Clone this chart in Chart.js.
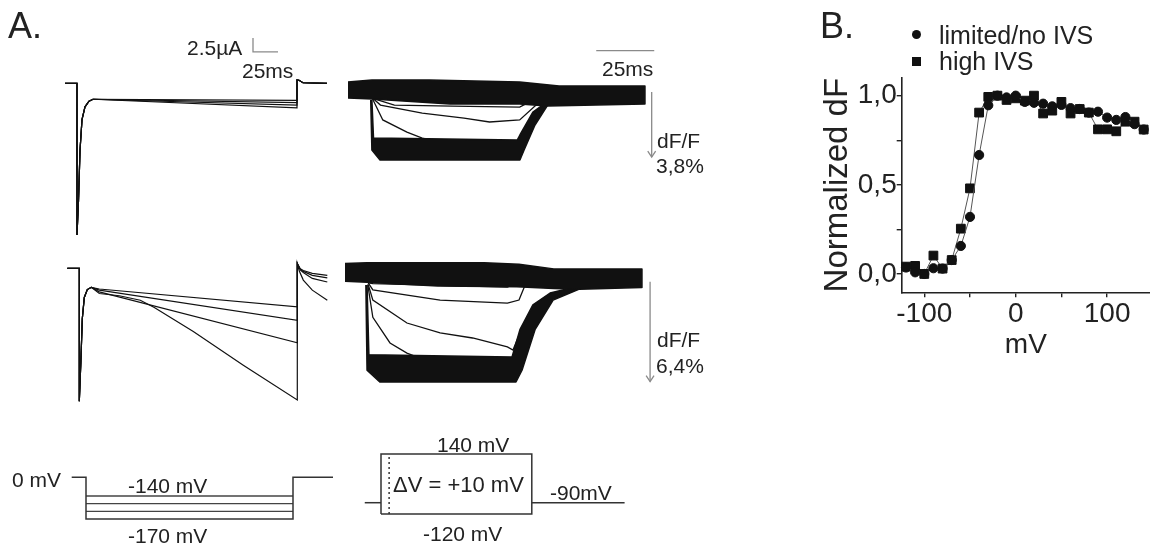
<!DOCTYPE html>
<html>
<head>
<meta charset="utf-8">
<script src="https://cdn.jsdelivr.net/npm/chart.js@4.4.1/dist/chart.umd.min.js"></script>
<style>
html, body { margin: 0; padding: 0; background: #fff; }
#page { position: relative; width: 1150px; height: 547px; overflow: hidden; font-family: "Liberation Sans", Arial, sans-serif; color: #222; }
canvas { position: absolute; }
.lbl { position: absolute; white-space: nowrap; line-height: 1; }
.mk { position: absolute; background: #111; width: 9px; height: 9px; }
</style>
</head>
<body>
<div id="page">
  <canvas id="traces" width="1150" height="547" style="left:0;top:0"></canvas>
  <canvas id="graphic" width="340" height="380" style="left:810px;top:0"></canvas>
</div>
<script>
var W = 1150, H = 547;
var FONT = '"Liberation Sans", Arial, sans-serif';

// ---- B. normalized dF vs test potential ----
var stepMv = [-120, -110, -100, -90, -80, -70, -60, -50, -40, -30, -20, -10, 0, 10, 20, 30, 40, 50, 60, 70, 80, 90, 100, 110, 120, 130, 140];
var dfLimited = [0.036, 0.009, 0.0, 0.032, 0.03, 0.078, 0.157, 0.32, 0.667, 0.946, 1.0, 0.99, 1.0, 0.965, 0.96, 0.955, 0.94, 0.948, 0.93, 0.925, 0.905, 0.91, 0.877, 0.864, 0.88, 0.84, 0.81];
var dfHigh = [0.041, 0.045, 0.0, 0.103, 0.03, 0.078, 0.254, 0.48, 0.905, 0.993, 1.0, 0.976, 0.985, 0.972, 1.0, 0.90, 0.916, 0.965, 0.90, 0.925, 0.905, 0.811, 0.811, 0.80, 0.854, 0.854, 0.81];
var xTickVals = [-100, -50, 0, 50, 100];
var xTickText = ['-100', '', '0', '', '100'];
var yTickVals = [0, 0.25, 0.5, 0.75, 1];
var yTickText = ['0,0', '', '0,5', '', '1,0'];

// ---- A. current records (ms, µA) ----
var iTopOnset = [[-12, 0], [0, 0], [0, -27.1], [1.5, -21], [3, -12], [5, -6.5], [8, -4.2], [12, -3.2], [16, -2.85]];
var iTopEnd = [-3.05, -3.45, -3.9, -4.4];
var iTopTail = [[220, 0.6], [222, 0.55], [226, 0.1], [250, 0]];
var iBotOnset = [[-12, 0], [0, 0], [0, -23.75], [1.5, -17], [3, -9], [5, -5.2], [8, -3.8], [12, -3.4]];
var iBotSweeps = [
  [[20, -3.7], [218, -6.9]],
  [[20, -3.9], [218, -9.3]],
  [[20, -4.2], [218, -13.3]],
  [[20, -4.5], [40, -4.9], [61, -5.7], [75, -7.0], [114, -11.3], [164, -17.3], [218, -23.5]]
];
var iBotTails = [
  [[218, 0.84], [221, -0.1], [224, -0.4], [233, -0.9], [248, -1.25]],
  [[218, 0.84], [221, -0.2], [224, -0.55], [233, -1.25], [248, -1.7]],
  [[218, 0.84], [221, -0.3], [224, -0.75], [233, -1.8], [248, -2.45]],
  [[218, 0.84], [220, -0.5], [224, -2.1], [233, -3.9], [248, -5.7]]
];

// ---- A. fluorescence records (ms, dF/F %) : envelopes of the dense bundles + single sweeps ----
var fTopBaseHi = [[0, 0.47], [10.3, 0.58], [35, 0.58], [74, 0.47], [91, 0.23], [128, 0.23]];
var fTopBaseLo = [[0, -0.47], [10.3, -0.53], [44, -0.82], [74, -0.82], [86, -0.94], [128, -0.82]];
var fTopMaxHi = [[10.3, -0.58], [11, -2.81], [73, -2.92], [74.1, -2.63], [79.7, -1.29], [85.8, -0.7]];
var fTopMaxLo = [[9.8, -0.58], [10.3, -3.51], [13.8, -4.09], [74.1, -4.09], [75.9, -3.51], [80.6, -2.05], [85.8, -0.94]];
var fTopSweeps = [
  [[10.5, -0.5], [15, -1.75], [25.4, -2.46], [32, -2.81], [40, -3.04]],
  [[10.8, -0.5], [14, -0.88], [32, -1.35], [50, -1.64], [61, -1.87], [74, -1.75], [80.6, -0.94], [86, -0.47]],
  [[11, -0.5], [20, -0.88], [45, -0.94], [74, -1.0], [80, -0.58]]
];
var fBotBaseHi = [[0, 0.55], [9.5, 0.6], [60, 0.6], [75, 0.5], [90, 0.2], [128, 0.2]];
var fBotBaseLo = [[0, -0.6], [9.5, -0.65], [40, -0.9], [74, -0.95], [90, -1.05], [101, -1.1], [128, -1.0]];
var fBotMaxHi = [[9.5, -0.83], [10.3, -5.3], [72, -5.45], [75.4, -3.7], [81, -2.1], [88.4, -1.35], [101, -0.9]];
var fBotMaxLo = [[9, -0.83], [9.5, -6.3], [15, -7.05], [73.7, -7.05], [76.3, -6.3], [81.9, -3.7], [89.7, -1.8], [101, -1.1]];
var fBotSweeps = [
  [[9.8, -0.8], [12, -2.9], [19.4, -4.55], [26.7, -5.2], [32, -5.5]],
  [[10, -0.8], [12, -1.8], [26.7, -3.27], [41, -3.9], [55, -4.23], [70, -4.8], [72.4, -5.0], [76, -3.7], [81, -2.4], [87, -1.67]],
  [[10, -0.7], [12, -1.15], [41, -1.8], [70, -2.0], [75, -1.8], [78, -0.7]],
  [[10, -0.7], [12, -0.75], [70, -0.96], [77, -0.5]]
];

// ---- A. voltage protocols (ms, mV) ----
var holdA = 0, stepsA = [-140, -150, -160, -170], stepA_ms = 207;
var holdB = -90, stepB_lo = -120, stepB_hi = 140, stepB_ms = 65;

// pixel frames: [x0, px per x unit, y0, px per y unit]
var frames = {
  curTop: [77, 1, 83.3, 5.6],
  curBot: [79.3, 1, 268.3, 5.6],
  fluTop: [348, 2.32, 90, 17.1],
  fluBot: [345, 2.32, 272, 15.6],
  protA: [86, 1, 477.3, 0.767],
  protB: [381, 2.32, 483.65, 0.377]
};
// schematic breaks of the protocol voltage axes (part above "at" is squeezed by f)
var breaks = {yprotA: {at: -140, f: 0.174}, yprotB: {at: -90, f: 0.5616}};

class BrokenMv extends Chart.LinearScale {
  getPixelForValue(v) {
    var b = breaks[this.id];
    var u = v < b.at ? b.at * b.f + (v - b.at) : v * b.f;
    return super.getPixelForValue(u);
  }
}
BrokenMv.id = 'brokenmv';
BrokenMv.defaults = Chart.LinearScale.defaults;
Chart.register(BrokenMv);

var scales = {};
Object.keys(frames).forEach(function (k) {
  var f = frames[k];
  scales['x' + k] = {type: 'linear', axis: 'x', display: false, min: -f[0] / f[1], max: (W - f[0]) / f[1]};
  scales['y' + k] = {type: breaks['y' + k] ? 'brokenmv' : 'linear', axis: 'y', display: false, min: (f[2] - H) / f[3], max: f[2] / f[3]};
});

function trace(frame, pts, opts) {
  return Object.assign({
    data: pts, xAxisID: 'x' + frame, yAxisID: 'y' + frame,
    borderColor: '#111', borderWidth: 1.2, pointRadius: 0, fill: false, tension: 0
  }, opts || {});
}
function band(frame, hi, lo) {
  return trace(frame, hi.concat(lo.slice().reverse()), {fill: 'shape', backgroundColor: '#111', borderWidth: 1.5, borderJoinStyle: 'round'});
}
var gray = {borderColor: '#8a8a8a', borderWidth: 1.3};
var volt = {borderColor: '#333', borderWidth: 1.5};

var ds = [];
iTopEnd.forEach(function (v) {
  ds.push(trace('curTop', iTopOnset.concat([[220, v]], iTopTail)));
});
iBotSweeps.forEach(function (s, i) {
  ds.push(trace('curBot', iBotOnset.concat(s, iBotTails[i])));
});
ds.push(band('fluTop', fTopBaseHi, fTopBaseLo));
ds.push(band('fluTop', fTopMaxHi, fTopMaxLo));
fTopSweeps.forEach(function (s) { ds.push(trace('fluTop', s, {borderWidth: 1.3})); });
ds.push(band('fluBot', fBotBaseHi, fBotBaseLo));
ds.push(band('fluBot', fBotMaxHi, fBotMaxLo));
fBotSweeps.forEach(function (s) { ds.push(trace('fluBot', s, {borderWidth: 1.3})); });

// scale bars and dF/F arrows, in the units of each record
ds.push(trace('curTop', [[176, 8.1], [176, 5.6], [201, 5.6]], gray));
ds.push(trace('fluTop', [[107, 2.3], [132, 2.3]], gray));
ds.push(trace('fluTop', [[130.9, -0.12], [130.9, -3.92]], gray));
ds.push(trace('fluTop', [[129.2, -3.57], [130.9, -3.92], [132.6, -3.57]], gray));
ds.push(trace('fluBot', [[131.5, -0.62], [131.5, -7.02]], gray));
ds.push(trace('fluBot', [[129.8, -6.64], [131.5, -7.02], [133.2, -6.64]], gray));

// protocols
var low = stepsA[stepsA.length - 1];
ds.push(trace('protA', [[-14.3, holdA], [0, holdA], [0, low], [stepA_ms, low], [stepA_ms, holdA], [stepA_ms + 40, holdA]], volt));
stepsA.slice(0, -1).forEach(function (v) {
  ds.push(trace('protA', [[0, v], [stepA_ms, v]], {borderColor: '#444', borderWidth: 1.3}));
});
ds.push(trace('protB', [[-7, holdB], [0, holdB]], volt));
ds.push(trace('protB', [[0, stepB_lo], [0, stepB_hi], [stepB_ms, stepB_hi], [stepB_ms, stepB_lo], [0, stepB_lo]], volt));
ds.push(trace('protB', [[stepB_ms, holdB], [stepB_ms + 105 - 65, holdB]], volt));
ds.push(trace('protB', [[3.5, stepB_lo], [3.5, stepB_hi]], Object.assign({borderDash: [2, 3]}, volt)));

new Chart(document.getElementById('traces'), {
  type: 'line',
  data: {datasets: ds},
  options: {
    responsive: false, animation: false, events: [],
    layout: {padding: 0, autoPadding: false},
    plugins: {legend: {display: false}, tooltip: {enabled: false}},
    scales: scales
  }
});

// ---- panel B chart ----
var axisColor = '#222';
new Chart(document.getElementById('graphic'), {
  type: 'line',
  data: {
    datasets: [{
      label: 'limited/no IVS',
      data: stepMv.map(function (x, i) { return {x: x, y: dfLimited[i]}; }),
      pointStyle: 'circle', pointRadius: 4.6, pointBackgroundColor: '#111', pointBorderColor: '#111',
      borderColor: '#555', borderWidth: 1, tension: 0, clip: false
    }, {
      label: 'high IVS',
      data: stepMv.map(function (x, i) { return {x: x, y: dfHigh[i]}; }),
      pointStyle: 'rect', pointRadius: 6.2, pointBackgroundColor: '#111', pointBorderColor: '#111',
      borderColor: '#555', borderWidth: 1, tension: 0, clip: false
    }]
  },
  options: {
    responsive: false, animation: false, events: [],
    layout: {padding: {top: 78, left: 0, right: 0, bottom: 0}, autoPadding: false},
    plugins: {legend: {display: false}, tooltip: {enabled: false}},
    scales: {
      x: {
        type: 'linear', min: -124.7, max: 146.9,
        afterBuildTicks: function (s) { s.ticks = xTickVals.map(function (v) { return {value: v}; }); },
        afterFit: function (s) { s.height = 87.7; },
        ticks: {
          callback: function (v, i) { return xTickText[i]; },
          font: {size: 28, family: FONT}, color: axisColor, padding: 0, maxRotation: 0, autoSkip: false
        },
        grid: {display: true, drawOnChartArea: false, drawTicks: true, tickLength: 5, color: axisColor, lineWidth: 1.4},
        border: {display: true, color: axisColor, width: 1.6},
        title: {display: true, text: 'mV', font: {size: 28, family: FONT}, color: axisColor, padding: {top: 0, bottom: 18}}
      },
      y: {
        type: 'linear', min: -0.103, max: 1.099,
        afterBuildTicks: function (s) { s.ticks = yTickVals.map(function (v) { return {value: v}; }); },
        afterFit: function (s) { s.width = 91.7; },
        ticks: {
          callback: function (v, i) { return yTickText[i]; },
          font: {size: 28, family: FONT}, color: axisColor, padding: 0, autoSkip: false
        },
        grid: {display: true, drawOnChartArea: false, drawTicks: true, tickLength: 5, color: axisColor, lineWidth: 1.4},
        border: {display: true, color: axisColor, width: 1.6},
        title: {display: true, text: 'Normalized dF', font: {size: 33, family: FONT}, color: axisColor, padding: {top: 8, bottom: 0}}
      }
    }
  }
});

// ---- text annotations ----
var page = document.getElementById('page');
var labels = [
  ['A.', 8, 25.5, 36], ['B.', 820, 25.5, 36],
  ['2.5\u00b5A', 187, 47, 21], ['25ms', 242, 70, 21], ['25ms', 602, 68.5, 21],
  ['dF/F', 657, 140.5, 21], ['3,8%', 656, 165, 21],
  ['dF/F', 657, 339.5, 21], ['6,4%', 656, 365.5, 21],
  ['0 mV', 12, 479, 21], ['-140 mV', 128, 485.5, 21], ['-170 mV', 128, 535, 21],
  ['140 mV', 437, 444, 21], ['\u0394V = +10 mV', 393, 485, 22], ['-90mV', 550, 492.5, 21], ['-120 mV', 423, 533, 21],
  ['limited/no IVS', 939, 35, 25], ['high IVS', 939, 61, 25]
];
labels.forEach(function (l) {
  var d = document.createElement('div');
  d.className = 'lbl';
  d.textContent = l[0];
  d.style.left = l[1] + 'px';
  d.style.top = (l[2] - 0.49 * l[3]) + 'px';
  d.style.fontSize = l[3] + 'px';
  page.appendChild(d);
});
var markers = [[916.7, 34.3, '50%'], [916.7, 61.7, '0']];
markers.forEach(function (m) {
  var d = document.createElement('div');
  d.className = 'mk';
  d.style.left = (m[0] - 4.5) + 'px';
  d.style.top = (m[1] - 4.5) + 'px';
  d.style.borderRadius = m[2];
  page.appendChild(d);
});
</script>
</body>
</html>
